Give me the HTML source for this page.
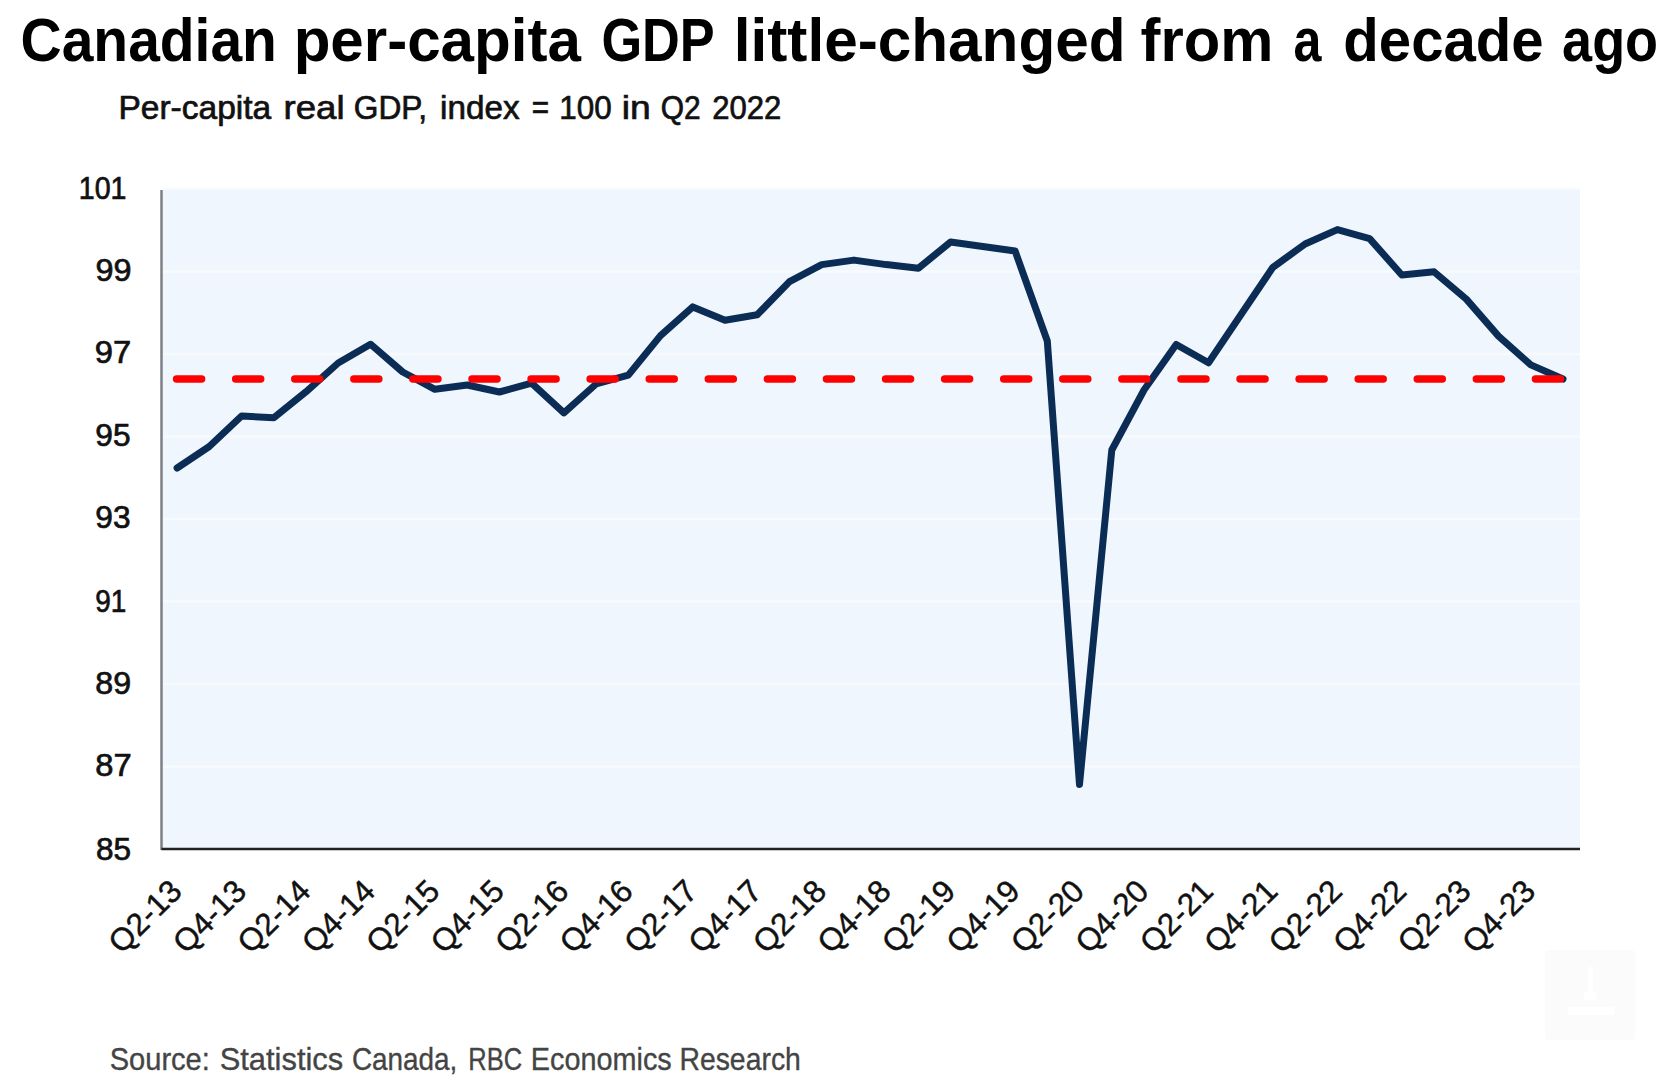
<!DOCTYPE html>
<html><head><meta charset="utf-8"><style>
html,body{margin:0;padding:0;background:#fff;}
body{width:1672px;height:1082px;overflow:hidden;}
svg{display:block;font-family:"Liberation Sans",sans-serif;}
</style></head><body>
<svg width="1672" height="1082" viewBox="0 0 1672 1082">
<rect x="0" y="0" width="1672" height="1082" fill="#ffffff"/>
<text x="20.55" y="60.6" font-size="61" font-weight="bold" fill="#000" stroke="#000" stroke-width="0.0" textLength="256.34" lengthAdjust="spacingAndGlyphs">Canadian</text>
<text x="293.64" y="60.6" font-size="61" font-weight="bold" fill="#000" stroke="#000" stroke-width="0.0" textLength="287.27" lengthAdjust="spacingAndGlyphs">per-capita</text>
<text x="601.39" y="60.6" font-size="61" font-weight="bold" fill="#000" stroke="#000" stroke-width="0.0" textLength="113.39" lengthAdjust="spacingAndGlyphs">GDP</text>
<text x="733.81" y="60.6" font-size="61" font-weight="bold" fill="#000" stroke="#000" stroke-width="0.0" textLength="391.76" lengthAdjust="spacingAndGlyphs">little-changed</text>
<text x="1140.57" y="60.6" font-size="61" font-weight="bold" fill="#000" stroke="#000" stroke-width="0.0" textLength="132.77" lengthAdjust="spacingAndGlyphs">from</text>
<text x="1293.50" y="60.6" font-size="61" font-weight="bold" fill="#000" stroke="#000" stroke-width="0.0" textLength="27.90" lengthAdjust="spacingAndGlyphs">a</text>
<text x="1343.34" y="60.6" font-size="61" font-weight="bold" fill="#000" stroke="#000" stroke-width="0.0" textLength="200.29" lengthAdjust="spacingAndGlyphs">decade</text>
<text x="1562.11" y="60.6" font-size="61" font-weight="bold" fill="#000" stroke="#000" stroke-width="0.0" textLength="95.98" lengthAdjust="spacingAndGlyphs">ago</text>
<text x="118.47" y="119.3" font-size="33" font-weight="normal" fill="#111" stroke="#111" stroke-width="0.7" textLength="152.75" lengthAdjust="spacingAndGlyphs">Per-capita</text>
<text x="283.62" y="119.3" font-size="33" font-weight="normal" fill="#111" stroke="#111" stroke-width="0.7" textLength="60.98" lengthAdjust="spacingAndGlyphs">real</text>
<text x="353.76" y="119.3" font-size="33" font-weight="normal" fill="#111" stroke="#111" stroke-width="0.7" textLength="73.40" lengthAdjust="spacingAndGlyphs">GDP,</text>
<text x="440.05" y="119.3" font-size="33" font-weight="normal" fill="#111" stroke="#111" stroke-width="0.7" textLength="79.48" lengthAdjust="spacingAndGlyphs">index</text>
<text x="531.81" y="119.3" font-size="33" font-weight="normal" fill="#111" stroke="#111" stroke-width="0.7" textLength="17.34" lengthAdjust="spacingAndGlyphs">=</text>
<text x="559.20" y="119.3" font-size="33" font-weight="normal" fill="#111" stroke="#111" stroke-width="0.7" textLength="52.45" lengthAdjust="spacingAndGlyphs">100</text>
<text x="621.81" y="119.3" font-size="33" font-weight="normal" fill="#111" stroke="#111" stroke-width="0.7" textLength="28.99" lengthAdjust="spacingAndGlyphs">in</text>
<text x="660.83" y="119.3" font-size="33" font-weight="normal" fill="#111" stroke="#111" stroke-width="0.7" textLength="39.91" lengthAdjust="spacingAndGlyphs">Q2</text>
<text x="712.13" y="119.3" font-size="33" font-weight="normal" fill="#111" stroke="#111" stroke-width="0.7" textLength="69.11" lengthAdjust="spacingAndGlyphs">2022</text>
<text x="109.73" y="1070.2" font-size="32" font-weight="normal" fill="#444444" stroke="#444444" stroke-width="0.35" textLength="100.11" lengthAdjust="spacingAndGlyphs">Source:</text>
<text x="219.65" y="1070.2" font-size="32" font-weight="normal" fill="#444444" stroke="#444444" stroke-width="0.35" textLength="123.59" lengthAdjust="spacingAndGlyphs">Statistics</text>
<text x="351.93" y="1070.2" font-size="32" font-weight="normal" fill="#444444" stroke="#444444" stroke-width="0.35" textLength="105.45" lengthAdjust="spacingAndGlyphs">Canada,</text>
<text x="468.32" y="1070.2" font-size="32" font-weight="normal" fill="#444444" stroke="#444444" stroke-width="0.35" textLength="53.86" lengthAdjust="spacingAndGlyphs">RBC</text>
<text x="530.85" y="1070.2" font-size="32" font-weight="normal" fill="#444444" stroke="#444444" stroke-width="0.35" textLength="140.88" lengthAdjust="spacingAndGlyphs">Economics</text>
<text x="679.40" y="1070.2" font-size="32" font-weight="normal" fill="#444444" stroke="#444444" stroke-width="0.35" textLength="121.46" lengthAdjust="spacingAndGlyphs">Research</text>
<text x="78.83" y="198.7" font-size="31" font-weight="normal" fill="#111" stroke="#111" stroke-width="0.7" textLength="47.68" lengthAdjust="spacingAndGlyphs">101</text>
<text x="95.47" y="280.8" font-size="31" font-weight="normal" fill="#111" stroke="#111" stroke-width="0.7" textLength="36.06" lengthAdjust="spacingAndGlyphs">99</text>
<text x="94.69" y="362.9" font-size="31" font-weight="normal" fill="#111" stroke="#111" stroke-width="0.7" textLength="36.41" lengthAdjust="spacingAndGlyphs">97</text>
<text x="95.28" y="446" font-size="31" font-weight="normal" fill="#111" stroke="#111" stroke-width="0.7" textLength="35.23" lengthAdjust="spacingAndGlyphs">95</text>
<text x="95.28" y="527.6" font-size="31" font-weight="normal" fill="#111" stroke="#111" stroke-width="0.7" textLength="35.23" lengthAdjust="spacingAndGlyphs">93</text>
<text x="95.25" y="611.6" font-size="31" font-weight="normal" fill="#111" stroke="#111" stroke-width="0.7" textLength="31.07" lengthAdjust="spacingAndGlyphs">91</text>
<text x="95.27" y="694.4" font-size="31" font-weight="normal" fill="#111" stroke="#111" stroke-width="0.7" textLength="35.82" lengthAdjust="spacingAndGlyphs">89</text>
<text x="95.26" y="776" font-size="31" font-weight="normal" fill="#111" stroke="#111" stroke-width="0.7" textLength="36.43" lengthAdjust="spacingAndGlyphs">87</text>
<text x="95.94" y="860.1" font-size="31" font-weight="normal" fill="#111" stroke="#111" stroke-width="0.7" textLength="35.13" lengthAdjust="spacingAndGlyphs">85</text>
<rect x="161.5" y="190" width="1418.5" height="659" fill="#f0f6fe"/>
<g stroke="#f8fbfd" stroke-width="2.5"><line x1="163.0" x2="1580" y1="766.5" y2="766.5"/><line x1="163.0" x2="1580" y1="684.0" y2="684.0"/><line x1="163.0" x2="1580" y1="601.5" y2="601.5"/><line x1="163.0" x2="1580" y1="519.0" y2="519.0"/><line x1="163.0" x2="1580" y1="436.5" y2="436.5"/><line x1="163.0" x2="1580" y1="354.0" y2="354.0"/><line x1="163.0" x2="1580" y1="271.5" y2="271.5"/><line x1="163.0" x2="1580" y1="189.0" y2="189.0"/></g>
<line x1="161.5" x2="161.5" y1="190" y2="850" stroke="#7f7f86" stroke-width="2.5"/>
<line x1="161.5" x2="1580" y1="849" y2="849" stroke="#222" stroke-width="2.5"/>

<polyline points="177.1,468 209.3,446.5 241.6,416 273.8,417.8 306.0,391.8 338.2,363 370.5,344.2 402.7,372 434.9,389.3 467.2,385 499.4,392 531.6,383.2 563.9,412.8 596.1,384 628.3,375.1 660.5,335.6 692.8,306.9 725.0,320.2 757.2,314.8 789.5,281.6 821.7,264.6 853.9,260.1 886.2,264.6 918.4,268.2 950.6,242 982.8,246.5 1015.1,251 1047.3,341 1079.5,784.5 1111.8,450 1144.0,390 1176.2,344.5 1208.5,362.8 1240.7,315 1272.9,267.3 1305.1,244 1337.4,229.6 1369.6,238.6 1401.8,275 1434.1,271.8 1466.3,299.1 1498.5,336.1 1530.8,364.9 1563.0,379" fill="none" stroke="#0b2d55" stroke-width="7" stroke-linejoin="round" stroke-linecap="round"/>
<line x1="176.6" x2="1562.9899999999998" y1="379" y2="379" stroke="#ff0000" stroke-width="7.5" stroke-dasharray="25 34.08" stroke-linecap="round"/>
<g font-size="31.6" fill="#111" stroke="#111" stroke-width="0.45" text-anchor="end"><text transform="translate(183.6,893) rotate(-45)">Q2-13</text><text transform="translate(248.1,893) rotate(-45)">Q4-13</text><text transform="translate(312.5,893) rotate(-45)">Q2-14</text><text transform="translate(377.0,893) rotate(-45)">Q4-14</text><text transform="translate(441.4,893) rotate(-45)">Q2-15</text><text transform="translate(505.9,893) rotate(-45)">Q4-15</text><text transform="translate(570.4,893) rotate(-45)">Q2-16</text><text transform="translate(634.8,893) rotate(-45)">Q4-16</text><text transform="translate(699.3,893) rotate(-45)">Q2-17</text><text transform="translate(763.7,893) rotate(-45)">Q4-17</text><text transform="translate(828.2,893) rotate(-45)">Q2-18</text><text transform="translate(892.7,893) rotate(-45)">Q4-18</text><text transform="translate(957.1,893) rotate(-45)">Q2-19</text><text transform="translate(1021.6,893) rotate(-45)">Q4-19</text><text transform="translate(1086.0,893) rotate(-45)">Q2-20</text><text transform="translate(1150.5,893) rotate(-45)">Q4-20</text><text transform="translate(1215.0,893) rotate(-45)">Q2-21</text><text transform="translate(1279.4,893) rotate(-45)">Q4-21</text><text transform="translate(1343.9,893) rotate(-45)">Q2-22</text><text transform="translate(1408.3,893) rotate(-45)">Q4-22</text><text transform="translate(1472.8,893) rotate(-45)">Q2-23</text><text transform="translate(1537.3,893) rotate(-45)">Q4-23</text></g>
<g id="icon"><rect x="1545" y="950" width="90" height="90" rx="4" fill="#fbfbfb"/><rect x="1588" y="967" width="5" height="26" fill="#ffffff"/><rect x="1584" y="992" width="13" height="8" fill="#ffffff"/><rect x="1568" y="1007" width="46" height="8" fill="#ffffff"/></g>
</svg>
</body></html>
